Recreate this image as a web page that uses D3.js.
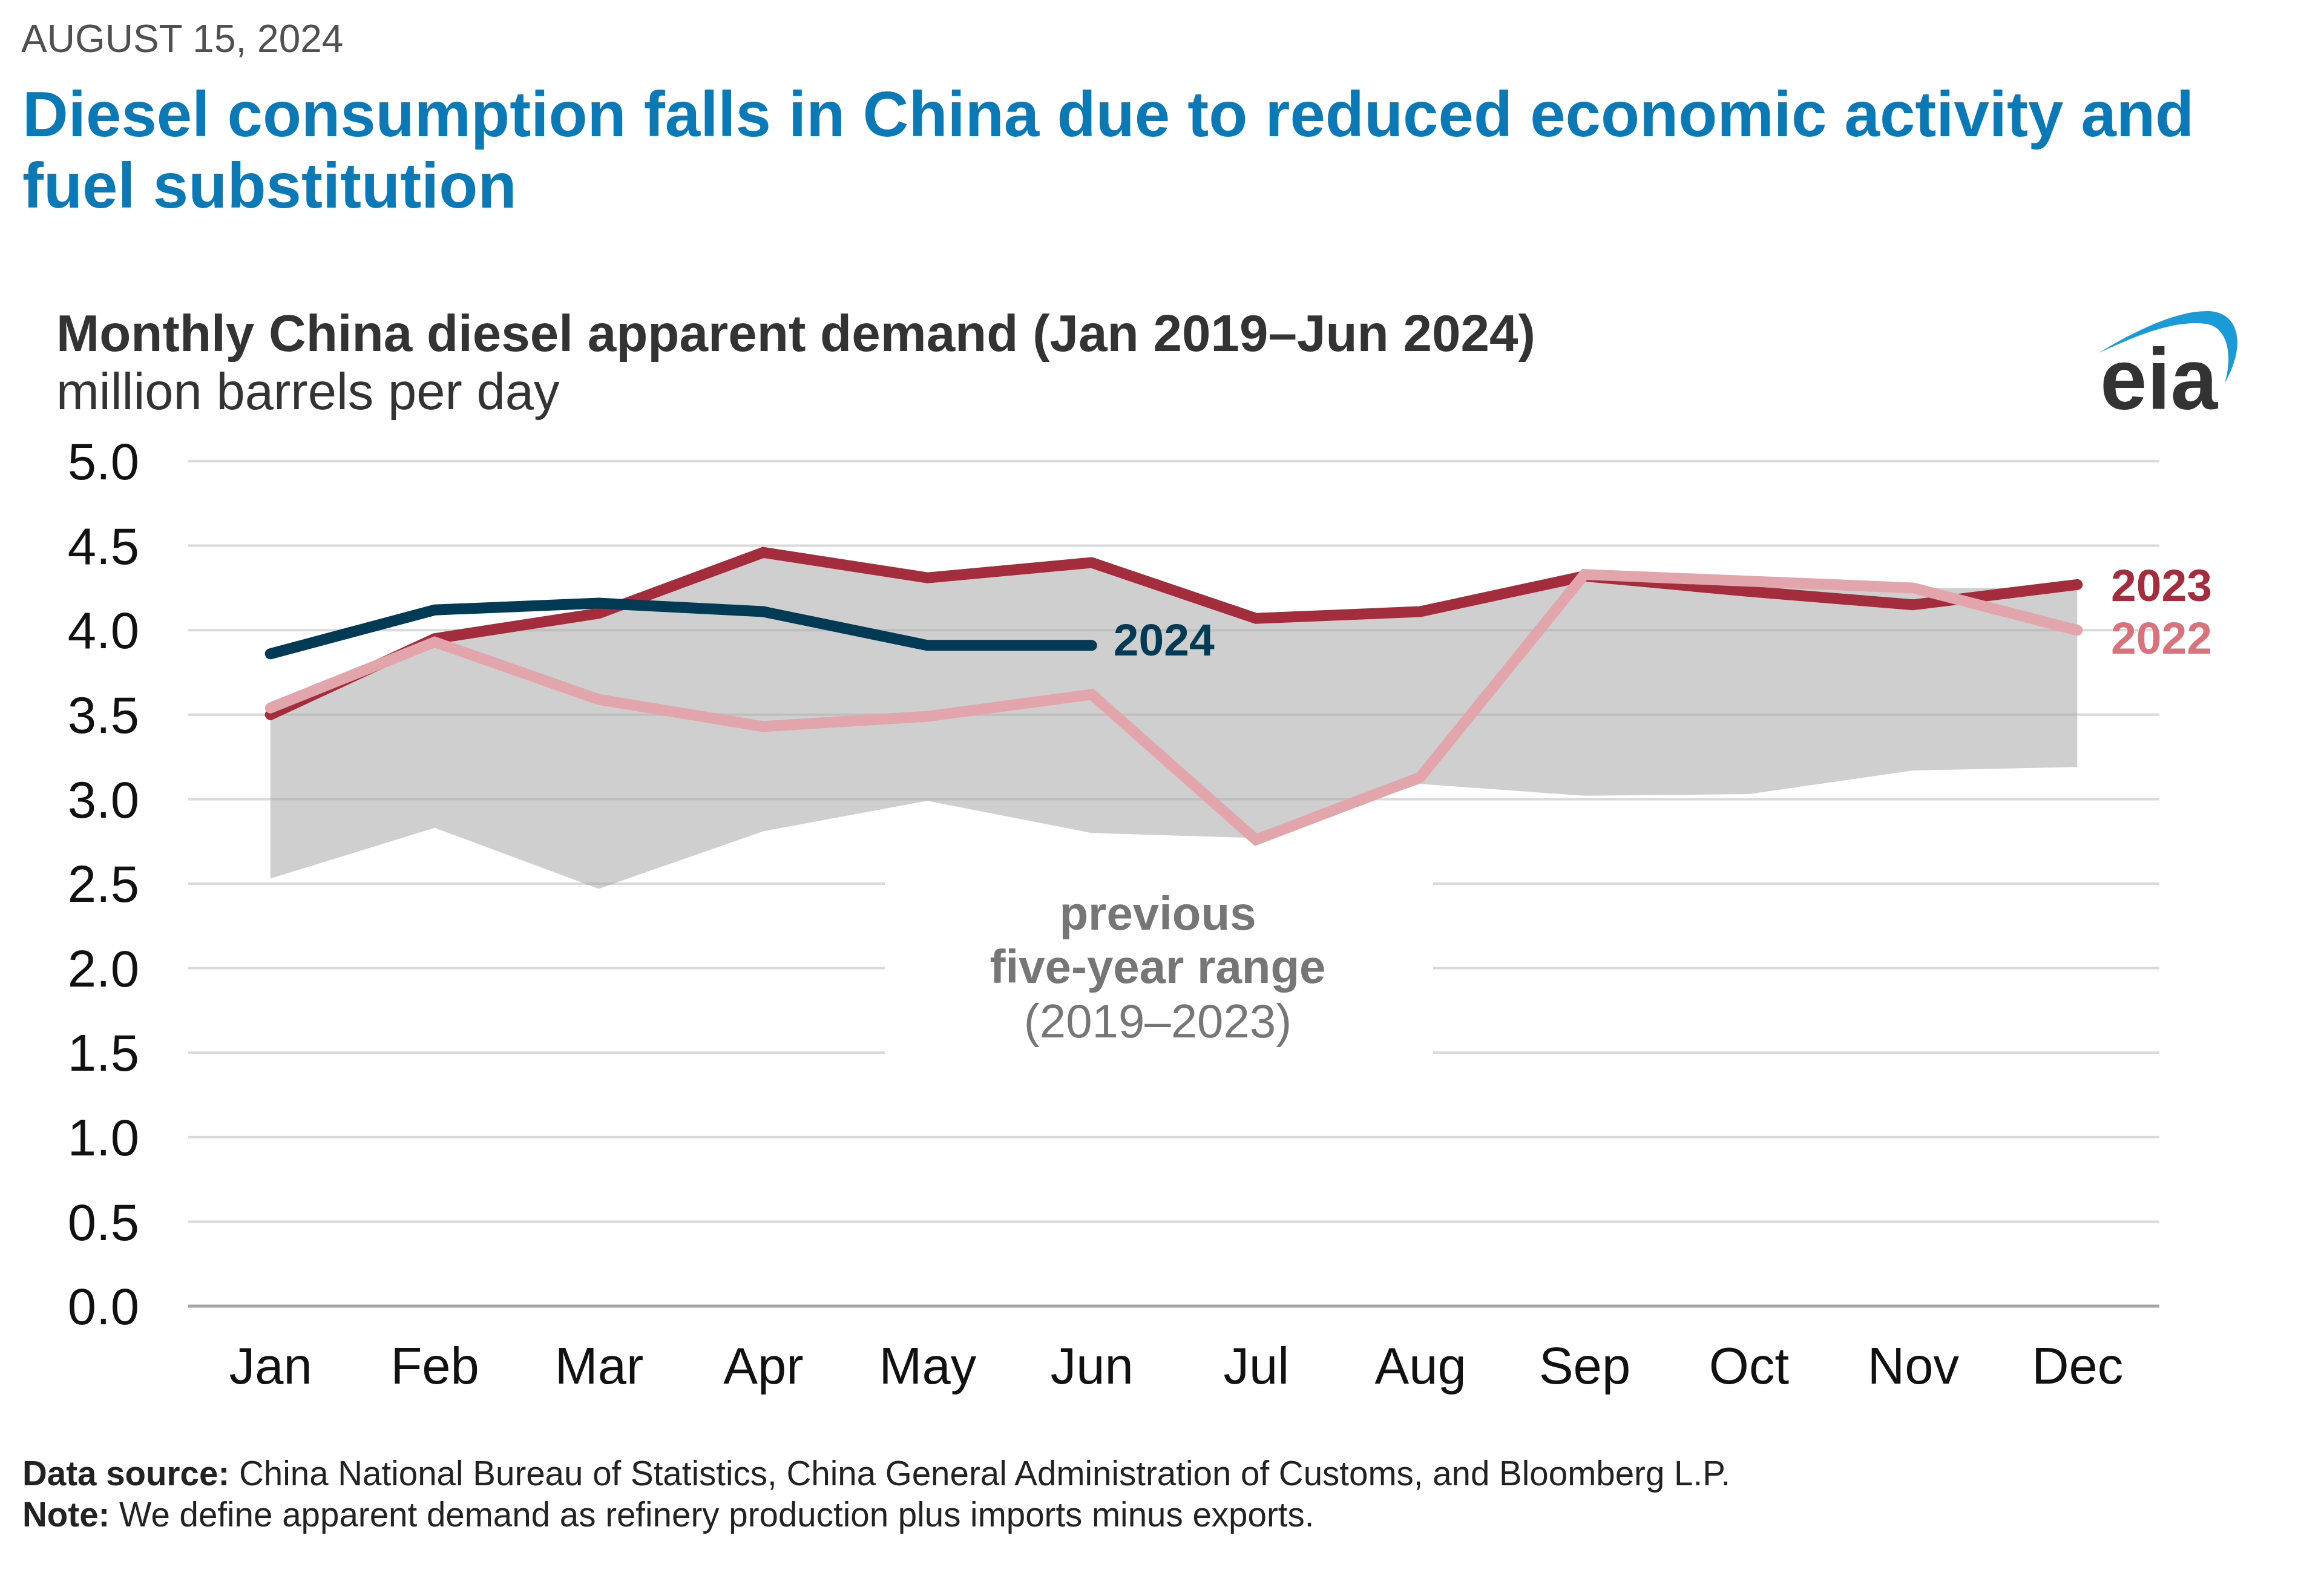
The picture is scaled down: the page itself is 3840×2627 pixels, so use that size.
<!DOCTYPE html>
<html>
<head>
<meta charset="utf-8">
<script src="https://cdn.jsdelivr.net/npm/d3@7"></script>
<style>
  html, body { margin: 0; padding: 0; background: #fff; }
  svg { display: block; }
  text { font-family: "Liberation Sans", Arial, Helvetica, sans-serif; }
</style>
</head>
<body>
<svg id="chart" width="3840" height="2627"></svg>
<script>
// ---- data ----
const months = ["Jan","Feb","Mar","Apr","May","Jun","Jul","Aug","Sep","Oct","Nov","Dec"];
const yTicks = [0, 0.5, 1, 1.5, 2, 2.5, 3, 3.5, 4, 4.5, 5];
const rangeLow  = [2.53, 2.83, 2.47, 2.81, 2.99, 2.80, 2.77, 3.09, 3.02, 3.03, 3.17, 3.19];
const rangeHigh = [3.52, 3.95, 4.10, 4.46, 4.31, 4.40, 4.07, 4.11, 4.33, 4.29, 4.25, 4.25];
const y2022 = [3.54, 3.93, 3.59, 3.43, 3.49, 3.62, 2.76, 3.13, 4.33, 4.29, 4.25, 4.00];
const y2023 = [3.50, 3.95, 4.10, 4.46, 4.31, 4.40, 4.07, 4.11, 4.32, 4.23, 4.15, 4.27];
const y2024 = [3.86, 4.12, 4.16, 4.11, 3.91, 3.91];

const svg = d3.select("#chart");
const FONT = '"Liberation Sans", Arial, Helvetica, sans-serif';

// ---- header ----
svg.append("text").attr("x", 35).attr("y", 86)
  .attr("font-size", 64).attr("fill", "#505050")
  .text("AUGUST 15, 2024");

const title = svg.append("text").attr("font-size", 105).attr("font-weight", "bold").attr("fill", "#0b79b5");
title.append("tspan").attr("x", 37).attr("y", 225)
  .text("Diesel consumption falls in China due to reduced economic activity and");
title.append("tspan").attr("x", 37).attr("y", 343).text("fuel substitution");

svg.append("text").attr("x", 93).attr("y", 580)
  .attr("font-size", 85.4).attr("font-weight", "bold").attr("fill", "#333")
  .text("Monthly China diesel apparent demand (Jan 2019\u2013Jun 2024)");
svg.append("text").attr("x", 93).attr("y", 676)
  .attr("font-size", 85).attr("fill", "#333")
  .text("million barrels per day");

// ---- eia logo ----
const logo = svg.append("g");
logo.append("path")
  .attr("d", "M3468,583 C3530,545 3600,512 3650,514 C3700,516 3712,570 3676,633 C3690,585 3680,540 3645,535 C3590,528 3530,555 3468,583 Z")
  .attr("fill", "#1a9bd7");
logo.append("text").attr("x", 3470).attr("y", 676)
  .attr("font-size", 142).attr("font-weight", "bold").attr("fill", "#333")
  .attr("textLength", 194).attr("lengthAdjust", "spacingAndGlyphs")
  .text("eia");

// ---- scales ----
const x = d3.scalePoint().domain(months).range([311, 3568]).padding(0.5);
const y = d3.scaleLinear().domain([0, 5]).range([2158, 762]);

// ---- gridlines ----
const grid = svg.append("g");
grid.selectAll("line").data(yTicks.filter(d => d > 0)).join("line")
  .attr("x1", 311).attr("x2", 3568)
  .attr("y1", d => y(d)).attr("y2", d => y(d))
  .attr("stroke", "#d9d9d9").attr("stroke-width", 4);

// gap behind annotation
svg.append("rect")
  .attr("x", 1462).attr("width", 2368 - 1462)
  .attr("y", y(2.56)).attr("height", y(1.44) - y(2.56))
  .attr("fill", "#fff");

// ---- five-year range ----
const area = d3.area()
  .x((d, i) => x(months[i]))
  .y0((d, i) => y(rangeLow[i]))
  .y1((d, i) => y(rangeHigh[i]));
svg.append("path").datum(rangeLow).attr("d", area)
  .attr("fill", "#a8a8a8").attr("fill-opacity", 0.55);

// baseline
svg.append("line").attr("x1", 311).attr("x2", 3568)
  .attr("y1", y(0)).attr("y2", y(0))
  .attr("stroke", "#a6a6a6").attr("stroke-width", 5);

// ---- y axis ----
const yAxis = d3.axisLeft(y).tickValues(yTicks).tickFormat(d3.format(".1f")).tickSize(0).tickPadding(0);
const gy = svg.append("g").attr("transform", "translate(230,0)").call(yAxis);
gy.select(".domain").remove();
gy.selectAll("text").attr("font-size", 85).attr("fill", "#111").attr("font-family", FONT).attr("dy", "0.35em");

// ---- x axis ----
const xAxis = d3.axisBottom(x).tickSize(0).tickPadding(0);
const gx = svg.append("g").attr("transform", "translate(0,2286)").call(xAxis);
gx.select(".domain").remove();
gx.selectAll("text").attr("font-size", 85).attr("fill", "#111").attr("font-family", FONT).attr("dy", 0);

// ---- lines ----
const line = d3.line().x((d, i) => x(months[i])).y(d => y(d));
function drawLine(data, color) {
  svg.append("path").datum(data).attr("d", line)
    .attr("fill", "none").attr("stroke", color).attr("stroke-width", 18)
    .attr("stroke-linecap", "round").attr("stroke-linejoin", "miter");
}
drawLine(y2023, "#a32d3d");
drawLine(y2022, "#e3a5ac");
drawLine(y2024, "#003a54");

// ---- series labels ----
svg.append("text").attr("x", x("Jun") + 36).attr("y", 1083)
  .attr("font-size", 75).attr("font-weight", "bold").attr("fill", "#003a54").text("2024");
svg.append("text").attr("x", 3488).attr("y", 993)
  .attr("font-size", 75).attr("font-weight", "bold").attr("fill", "#a32d3d").text("2023");
svg.append("text").attr("x", 3488).attr("y", 1080)
  .attr("font-size", 75).attr("font-weight", "bold").attr("fill", "#d8737e").text("2022");

// ---- annotation ----
const ann = svg.append("text").attr("text-anchor", "middle").attr("fill", "#767676").attr("font-size", 78);
ann.append("tspan").attr("x", 1913).attr("y", 1536).attr("font-weight", "bold").text("previous");
ann.append("tspan").attr("x", 1913).attr("y", 1624).attr("font-weight", "bold").text("five-year range");
ann.append("tspan").attr("x", 1913).attr("y", 1714).text("(2019\u20132023)");

// ---- footer ----
const f1 = svg.append("text").attr("x", 37).attr("y", 2454).attr("font-size", 56.5).attr("fill", "#222");
f1.append("tspan").attr("font-weight", "bold").text("Data source:");
f1.append("tspan").text(" China National Bureau of Statistics, China General Administration of Customs, and Bloomberg L.P.");
const f2 = svg.append("text").attr("x", 37).attr("y", 2522).attr("font-size", 56.5).attr("fill", "#222");
f2.append("tspan").attr("font-weight", "bold").text("Note:");
f2.append("tspan").text(" We define apparent demand as refinery production plus imports minus exports.");
</script>
</body>
</html>
